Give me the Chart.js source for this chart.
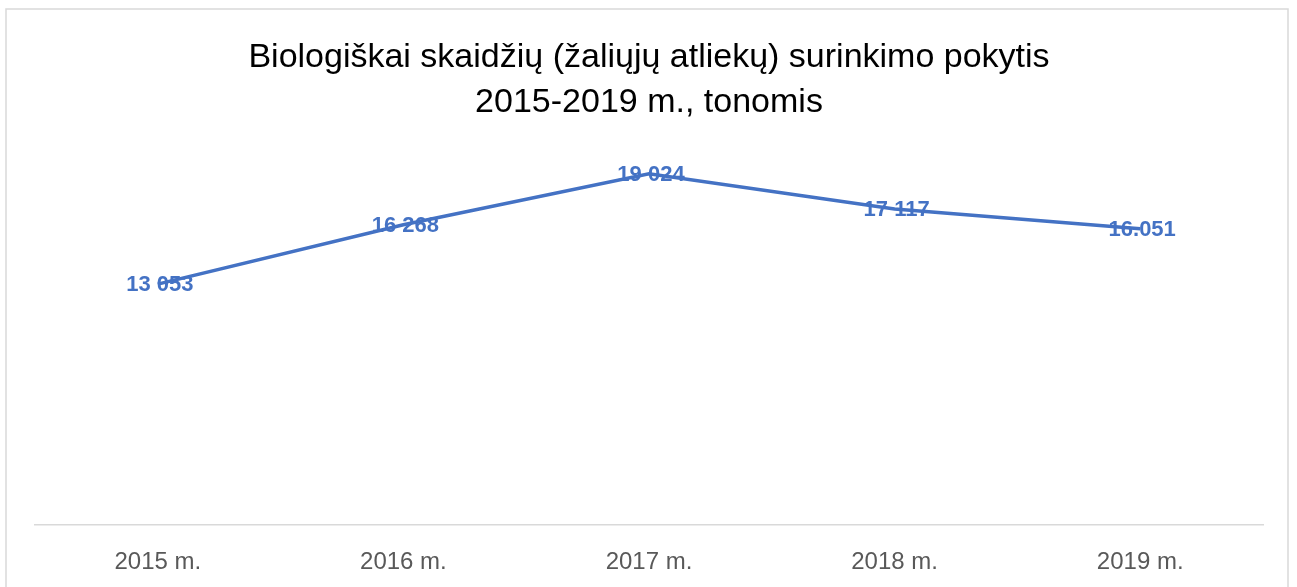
<!DOCTYPE html>
<html>
<head>
<meta charset="utf-8">
<script src="https://cdn.jsdelivr.net/npm/chart.js@4/dist/chart.umd.min.js"></script>
<style>
  html, body { margin: 0; padding: 0; background: #fff; }
  canvas { display: block; }
</style>
</head>
<body>
<canvas id="wasteChart" width="1297" height="587"></canvas>
<script>
// data
const categories = ['2015 m.', '2016 m.', '2017 m.', '2018 m.', '2019 m.'];
const collected = [13053, 16268, 19024, 17117, 16051];
const valueLabels = ['13 053', '16 268', '19 024', '17 117', '16.051'];
const yRange = [0, 20000];
const titleLines = ['Biologiškai skaidžių (žaliųjų atliekų) surinkimo pokytis', '2015-2019 m., tonomis'];

const blue = '#4472C4';

// outer frame of the chart object
const framePlugin = {
    id: 'frame',
    beforeDraw(chart) {
        const ctx = chart.ctx;
        ctx.save();
        ctx.fillStyle = '#fff';
        ctx.fillRect(0, 0, chart.width, chart.height);
        ctx.strokeStyle = '#d9d9d9';
        ctx.lineWidth = 1.5;
        ctx.strokeRect(6, 9, 1282, 620);
        ctx.restore();
    }
};

// value labels centred on each point
const valueLabelPlugin = {
    id: 'valueLabels',
    afterDatasetsDraw(chart) {
        const ctx = chart.ctx;
        const meta = chart.getDatasetMeta(0);
        ctx.save();
        ctx.font = 'bold 22px "Liberation Sans", Arial, sans-serif';
        ctx.fillStyle = blue;
        ctx.textAlign = 'center';
        ctx.textBaseline = 'middle';
        meta.data.forEach((pt, i) => {
            ctx.fillText(valueLabels[i], pt.x + 2, pt.y + 1);
        });
        ctx.restore();
    }
};

document.addEventListener('DOMContentLoaded', () => {
    const el = document.getElementById('wasteChart');
    new Chart(el, {
        type: 'line',
        data: {
            labels: categories,
            datasets: [{
                label: 'Surinkta, t',
                data: collected,
                borderColor: blue,
                borderWidth: 3.5,
                pointRadius: 0,
                tension: 0,
                fill: false
            }]
        },
        options: {
            responsive: false,
            animation: false,
            devicePixelRatio: 1,
            layout: {
                padding: { left: 35, right: 34, top: 0, bottom: -13 }
            },
            plugins: {
                legend: { display: false },
                tooltip: { enabled: false },
                title: {
                    display: true,
                    text: titleLines,
                    color: '#000',
                    font: { family: '"Liberation Sans", Arial, sans-serif', size: 34, weight: 'normal', lineHeight: 1.32 },
                    padding: { top: 35, bottom: 31 }
                }
            },
            scales: {
                x: {
                    offset: true,
                    grid: { display: false, drawTicks: false },
                    border: { display: true, color: '#d9d9d9', width: 1.5 },
                    ticks: {
                        color: '#595959',
                        padding: 23,
                        font: { family: '"Liberation Sans", Arial, sans-serif', size: 24 }
                    }
                },
                y: {
                    display: false,
                    min: yRange[0],
                    max: yRange[1]
                }
            }
        },
        plugins: [framePlugin, valueLabelPlugin]
    });
});
</script>
</body>
</html>
